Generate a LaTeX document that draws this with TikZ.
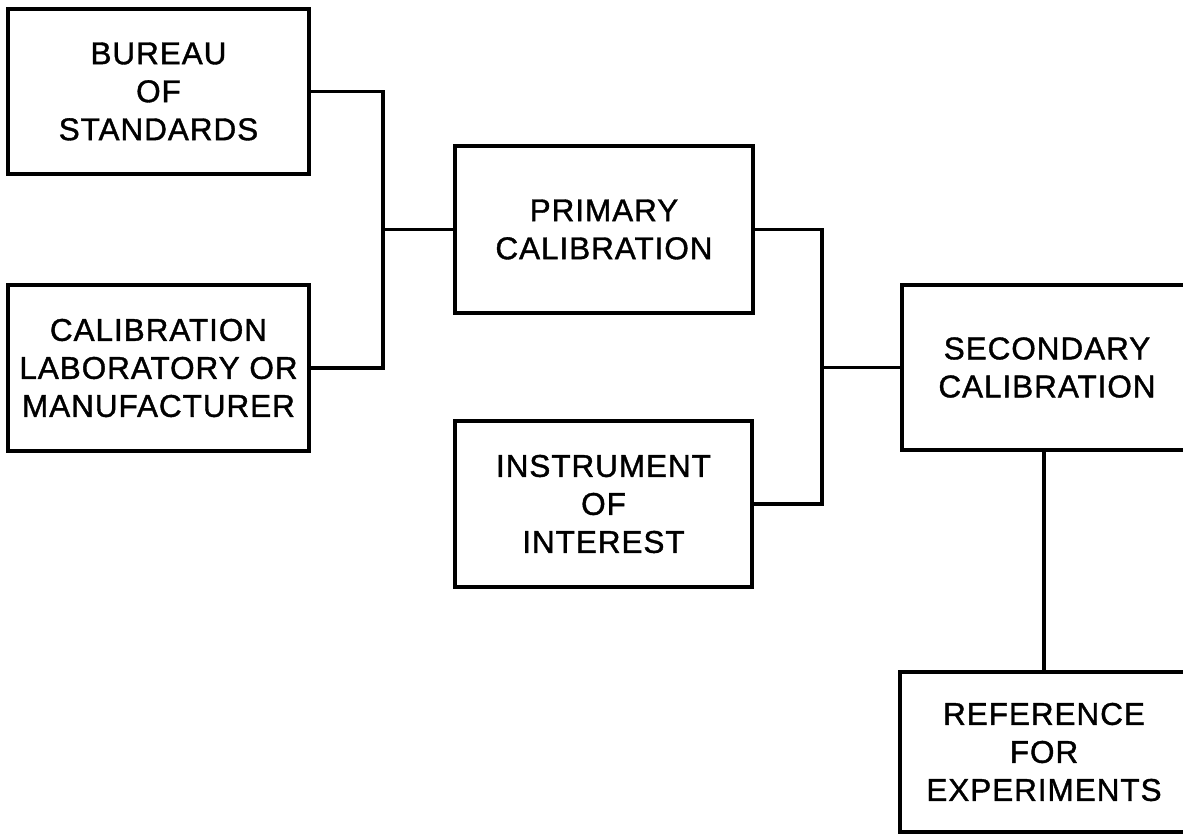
\documentclass[tikz,border=0pt]{standalone}
\usepackage{fontspec}
\setmainfont{Liberation Sans}[FakeBold=1.2, LetterSpace=3]
\begin{document}
\begin{tikzpicture}[x=1pt, y=-1pt,
  blockbox/.style={draw, line width=3.8pt, align=center, inner sep=0pt,
    font=\fontsize{31.5}{38}\selectfont},
  link/.style={line width=3.8pt, line join=miter}]
\useasboundingbox (0,0) rectangle (1183,835);
\clip (0,0) rectangle (1183,835);

% source blocks
\node[blockbox, minimum width=301pt, minimum height=165pt] (bureau) at (158.5,91.5)
  {BUREAU\\OF\\STANDARDS};
\node[blockbox, minimum width=301pt, minimum height=166pt] (lab) at (158.5,368)
  {CALIBRATION\\LABORATORY OR\\MANUFACTURER};

% middle column
\node[blockbox, minimum width=298pt, minimum height=167pt] (primary) at (604,229.5)
  {PRIMARY\\CALIBRATION};
\node[blockbox, minimum width=297pt, minimum height=166pt] (instr) at (603.5,504)
  {INSTRUMENT\\OF\\INTEREST};

% right column
\node[blockbox, minimum width=290pt, minimum height=165pt] (second) at (1047,367.5)
  {SECONDARY\\CALIBRATION};
\node[blockbox, minimum width=288pt, minimum height=160pt] (ref) at (1044,752)
  {REFERENCE\\FOR\\EXPERIMENTS};

% junction points of the connectors
\coordinate (j1) at (383,0);
\coordinate (j2) at (822,0);

\draw[link] (bureau.east) -| (j1 |- lab.east) -- (lab.east);
\draw[link] (j1 |- primary.west) -- (primary.west);
\draw[link] (primary.east) -| (j2 |- instr.east) -- (instr.east);
\draw[link] (j2 |- second.west) -- (second.west);
\draw[link] (ref.north) -- (ref.north |- second.south);
\end{tikzpicture}
\end{document}
